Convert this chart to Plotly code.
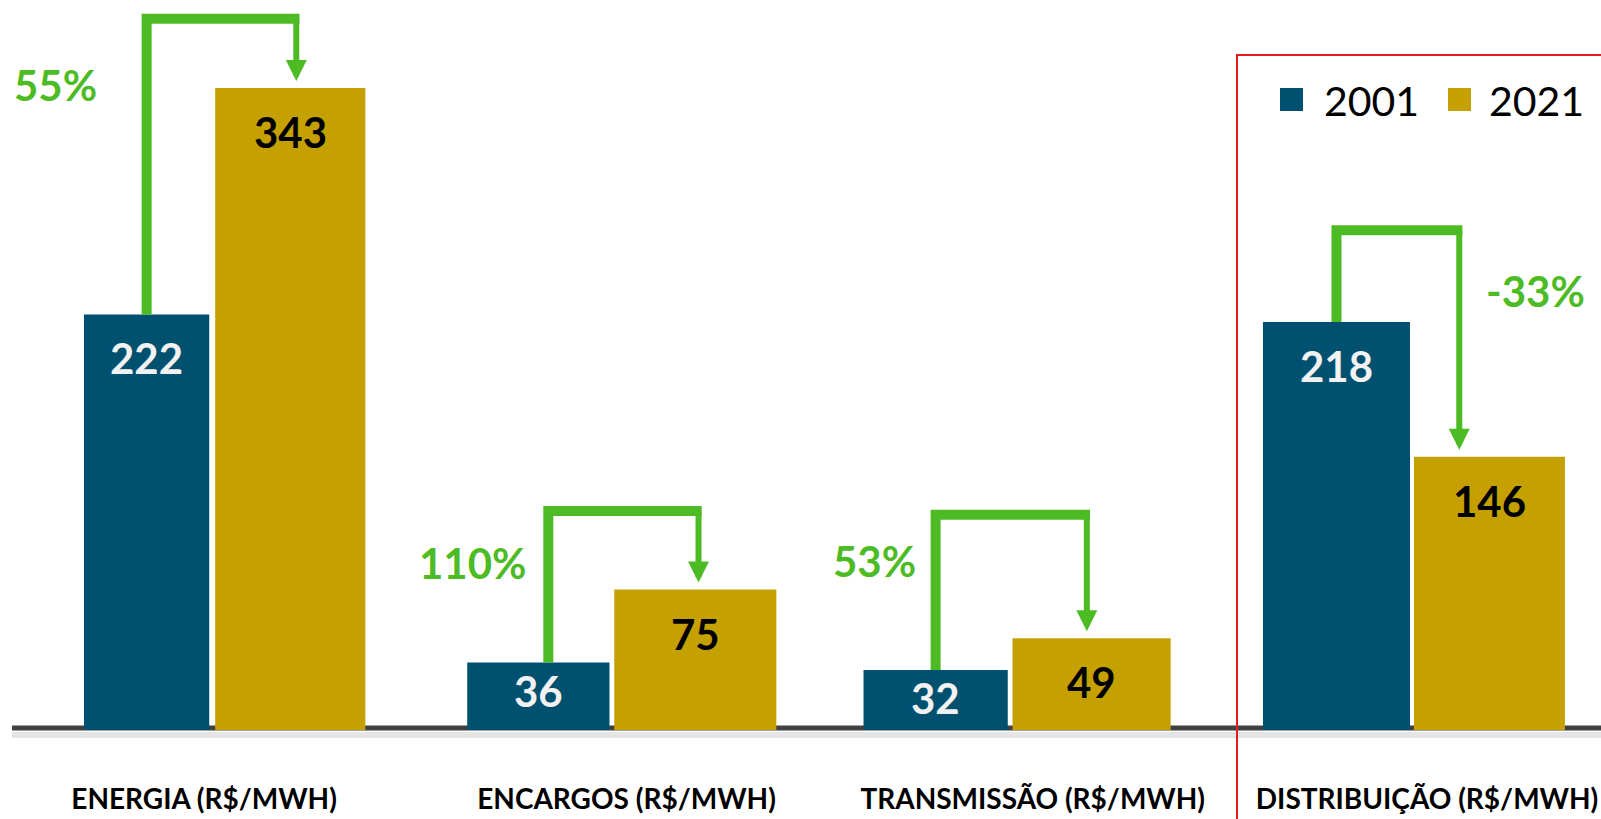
import plotly.graph_objects as go

# ---------------- data ----------------
categories = ["ENERGIA (R$/MWH)", "ENCARGOS (R$/MWH)", "TRANSMISSÃO (R$/MWH)", "DISTRIBUIÇÃO (R$/MWH)"]
years = ["2001", "2021"]
values_2001 = [222, 36, 32, 218]
values_2021 = [343, 75, 49, 146]
pct_labels = ["55%", "110%", "53%", "-33%"]
bracket_levels = [380, 117, 115, 267]   # height (in R$/MWh units) of the green brackets

# ---------------- style ----------------
BLUE = "#00506F"
GOLD = "#C4A000"
GREEN = "#4DBB24"
RED = "#E31E1E"
FONT = "Lato"
W, H = 1601, 819
PLOT_BOTTOM_PX = 730           # pixel row of y=0
# per-bar offsets / widths (category units) as drawn in the original slide
off_2001 = [-0.356, -0.389, -0.389, -0.381]
wid_2001 = [0.316, 0.359, 0.364, 0.371]
off_2021 = [-0.025, -0.018, -0.013, 0.0]
wid_2021 = [0.379, 0.409, 0.399, 0.381]
# where the bracket legs sit across each bar (fraction of bar width)
leg_frac_2001 = [0.5, 0.57, 0.5, 0.5]
leg_frac_2021 = [0.54, 0.52, 0.47, 0.30]
tick_nudge = [-0.053, 0.013, 0.038, 0.033]
pct_side = ["left", "left", "left", "right"]
pct_xshift = [-48, -19, -18, 25]
pct_yshift = [-66, -52, -46, -61]

xs = list(range(len(categories)))
fig = go.Figure()
fig.add_bar(x=xs, y=values_2001, offset=off_2001, width=wid_2001, name=years[0],
            marker=dict(color=BLUE, line_width=0), showlegend=False, hoverinfo="skip")
fig.add_bar(x=xs, y=values_2021, offset=off_2021, width=wid_2021, name=years[1],
            marker=dict(color=GOLD, line_width=0), showlegend=False, hoverinfo="skip")

annotations = []
# value labels
for i, v in enumerate(values_2001):
    annotations.append(dict(x=i + off_2001[i] + wid_2001[i] / 2, y=v, xref="x", yref="y",
                            text=f"<b>{v}</b>", showarrow=False, yanchor="middle",
                            yshift=-44 if v >= 45 else -28,
                            font=dict(family=FONT, size=42, color="#F2F2F2")))
for i, v in enumerate(values_2021):
    annotations.append(dict(x=i + off_2021[i] + wid_2021[i] / 2, y=v, xref="x", yref="y",
                            text=f"<b>{v}</b>", showarrow=False, yanchor="middle",
                            yshift=-44 if v >= 45 else -30,
                            font=dict(family=FONT, size=42, color="#000000")))

# green brackets
for i in xs:
    xl = i + off_2001[i] + wid_2001[i] * leg_frac_2001[i]
    xr = i + off_2021[i] + wid_2021[i] * leg_frac_2021[i]
    lvl = bracket_levels[i]
    fig.add_scatter(x=[xl, xl, xr + 0.008], y=[values_2001[i], lvl, lvl], mode="lines",
                    line=dict(color=GREEN, width=10), showlegend=False, hoverinfo="skip")
    annotations.append(dict(x=xr, y=values_2021[i], ax=xr, ay=lvl, xref="x", yref="y",
                            axref="x", ayref="y", showarrow=True, arrowhead=2, arrowsize=0.7,
                            arrowwidth=6, arrowcolor=GREEN, standoff=7, text=""))
    if pct_side[i] == "left":
        annotations.append(dict(x=xl, y=lvl, xref="x", yref="y", text=f"<b>{pct_labels[i]}</b>",
                                showarrow=False, xanchor="right", yanchor="middle",
                                xshift=pct_xshift[i], yshift=pct_yshift[i],
                                font=dict(family=FONT, size=42, color=GREEN)))
    else:
        annotations.append(dict(x=xr, y=lvl, xref="x", yref="y", text=f"<b>{pct_labels[i]}</b>",
                                showarrow=False, xanchor="left", yanchor="middle",
                                xshift=pct_xshift[i], yshift=pct_yshift[i],
                                font=dict(family=FONT, size=42, color=GREEN)))

# manual legend (large squares like the reference)
def px_x(p):
    return p / W

def px_y(p):
    return (PLOT_BOTTOM_PX - p) / PLOT_BOTTOM_PX

shapes = []
leg_items = [(years[0], BLUE, 1280, 1322), (years[1], GOLD, 1448, 1487)]
for label, col, sq_x, tx in leg_items:
    shapes.append(dict(type="rect", xref="paper", yref="paper",
                       x0=px_x(sq_x), x1=px_x(sq_x + 23), y0=px_y(111), y1=px_y(88),
                       fillcolor=col, line_width=0))
    annotations.append(dict(x=px_x(tx), y=px_y(100), xref="paper", yref="paper", text=label,
                            showarrow=False, xanchor="left", yanchor="middle",
                            font=dict(family=FONT, size=41, color="#000000")))

# baseline with soft shadow
shapes.append(dict(type="line", xref="paper", yref="paper", x0=px_x(12), x1=1.0,
                   y0=px_y(735), y1=px_y(735), line=dict(color="rgba(0,0,0,0.10)", width=6),
                   layer="below"))
shapes.append(dict(type="line", xref="paper", yref="paper", x0=px_x(12), x1=1.0,
                   y0=px_y(728), y1=px_y(728), line=dict(color="#404040", width=5),
                   layer="below"))
# red highlight box
shapes.append(dict(type="rect", xref="paper", yref="paper", x0=px_x(1237), x1=1.02,
                   y0=-0.3, y1=px_y(55), line=dict(color=RED, width=2), fillcolor="rgba(0,0,0,0)",
                   layer="above"))

xmin = -0.568
xmax = 3.472
fig.update_layout(
    width=W, height=H,
    margin=dict(l=0, r=0, t=0, b=H - PLOT_BOTTOM_PX),
    barmode="overlay",
    plot_bgcolor="white", paper_bgcolor="white",
    showlegend=False,
    annotations=annotations,
    shapes=shapes,
    xaxis=dict(range=[xmin, xmax], tickvals=[i + tick_nudge[i] for i in xs],
               ticktext=[f"<b>{c}</b>" for c in categories],
               tickfont=dict(family=FONT, size=28, color="#000000"), showgrid=False,
               zeroline=False, showline=False, ticks="", ticklabelstandoff=50, fixedrange=True,
               automargin=False),
    yaxis=dict(range=[0, PLOT_BOTTOM_PX / 1.872], visible=False, showgrid=False,
               zeroline=False, fixedrange=True),
)

fig.write_html("out.html", config={"displayModeBar": False},
               post_script="document.body.style.margin='0';document.body.style.overflow='hidden';")
